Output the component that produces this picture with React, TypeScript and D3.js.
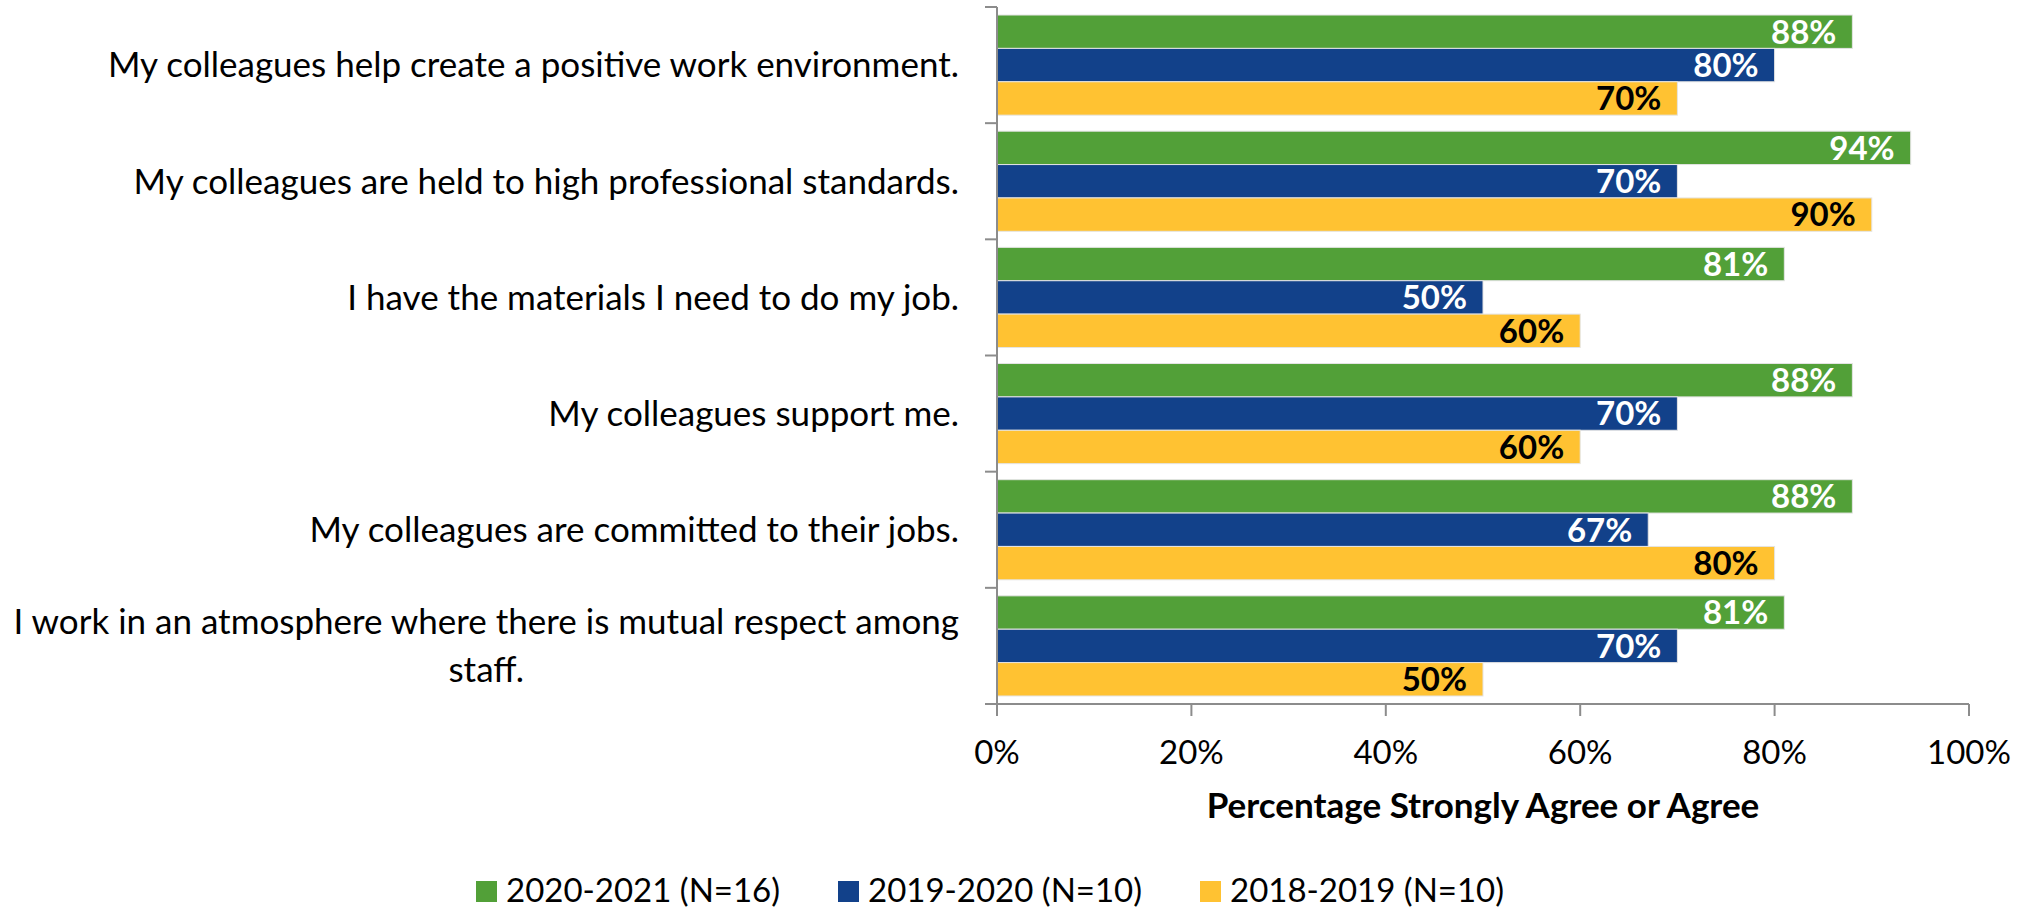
import React, { useEffect, useRef } from 'react';
import * as d3 from 'd3';

const categories = [
  'My colleagues help create a positive work environment.',
  'My colleagues are held to high professional standards.',
  'I have the materials I need to do my job.',
  'My colleagues support me.',
  'My colleagues are committed to their jobs.',
  'I work in an atmosphere where there is mutual respect among staff.',
];

const seriesNames = ['2020-2021 (N=16)', '2019-2020 (N=10)', '2018-2019 (N=10)'];
const values2021 = [88, 94, 81, 88, 88, 81];
const values2020 = [80, 70, 50, 70, 67, 70];
const values2019 = [70, 90, 60, 60, 80, 50];
const xTicks = [0, 20, 40, 60, 80, 100];

const colors = ['#52a038', '#12418a', '#ffc232'];
const labelColors = ['#ffffff', '#ffffff', '#000000'];

const FONT = 'Lato, "Open Sans", sans-serif';

export default function App() {
  const svgRef = useRef<SVGSVGElement>(null);
  const width = 2028;
  const height = 909;

  useEffect(() => {
    document.body.style.margin = '0';
    if (!svgRef.current) return;
    const svg = d3.select(svgRef.current);
    svg.selectAll('*').remove();

    const margin = { top: 7, right: 59, bottom: 205, left: 997 };
    const series = [values2021, values2020, values2019];

    const x = d3.scaleLinear()
      .domain([0, 100])
      .range([margin.left, width - margin.right]);

    const y = d3.scaleBand<number>()
      .domain(d3.range(categories.length))
      .range([margin.top, height - margin.bottom])
      .paddingInner(0.138)
      .paddingOuter(0.069);

    const ySub = d3.scaleBand<number>()
      .domain(d3.range(series.length))
      .range([0, y.bandwidth()]);

    // bars
    const groups = svg.append('g')
      .selectAll('g')
      .data(categories)
      .join('g')
      .attr('transform', (_, i) => `translate(0,${y(i)})`);

    groups.selectAll('rect')
      .data((_, i) => series.map((s, k) => ({ k, v: s[i] })))
      .join('rect')
      .attr('x', x(0))
      .attr('y', d => ySub(d.k)!)
      .attr('width', d => x(d.v) - x(0))
      .attr('height', ySub.bandwidth())
      .attr('fill', d => colors[d.k])
      .attr('stroke', '#e4e4e4')
      .attr('stroke-width', 1);

    groups.selectAll('text')
      .data((_, i) => series.map((s, k) => ({ k, v: s[i] })))
      .join('text')
      .attr('x', d => x(d.v) - 16)
      .attr('y', d => ySub(d.k)! + ySub.bandwidth() / 2)
      .attr('dy', '0.36em')
      .attr('text-anchor', 'end')
      .attr('font-family', FONT)
      .attr('font-weight', 'bold')
      .attr('font-size', 33)
      .attr('fill', d => labelColors[d.k])
      .text(d => `${d.v}%`);

    // y axis with category separators
    const axisColor = '#8c8c8c';
    const yAxis = svg.append('g');
    yAxis.append('line')
      .attr('x1', x(0)).attr('x2', x(0))
      .attr('y1', margin.top).attr('y2', height - margin.bottom)
      .attr('stroke', axisColor).attr('stroke-width', 2);
    const step = y.step();
    yAxis.selectAll('line.tick')
      .data(d3.range(categories.length + 1))
      .join('line')
      .attr('class', 'tick')
      .attr('x1', x(0) - 12).attr('x2', x(0))
      .attr('y1', i => margin.top + i * step)
      .attr('y2', i => margin.top + i * step)
      .attr('stroke', axisColor).attr('stroke-width', 2);

    // category labels
    const maxLabel = 955;
    const labelX = x(0) - 38;
    categories.forEach((c, i) => {
      const cy = y(i)! + y.bandwidth() / 2;
      const t = svg.append('text')
        .attr('font-family', FONT)
        .attr('font-size', 35)
        .attr('fill', '#000');
      const words = c.split(' ');
      const lines: string[] = [];
      let cur: string[] = [];
      const probe = t.append('tspan');
      words.forEach(w => {
        const test = [...cur, w].join(' ');
        probe.text(test);
        if ((probe.node() as SVGTSpanElement).getComputedTextLength() > maxLabel && cur.length) {
          lines.push(cur.join(' '));
          cur = [w];
        } else {
          cur.push(w);
        }
      });
      lines.push(cur.join(' '));
      probe.remove();
      if (lines.length === 1) {
        t.attr('x', labelX).attr('y', cy).attr('dy', '0.35em')
          .attr('text-anchor', 'end').text(lines[0]);
      } else {
        // wrapped labels are centred on their widest line
        const widths = lines.map(l => {
          const s = t.append('tspan').text(l);
          const wv = (s.node() as SVGTSpanElement).getComputedTextLength();
          s.remove();
          return wv;
        });
        const cx = labelX - d3.max(widths)! / 2;
        const lh = 48;
        t.attr('text-anchor', 'middle');
        lines.forEach((l, j) => {
          t.append('tspan')
            .attr('x', cx)
            .attr('y', cy + (j - (lines.length - 1) / 2) * lh)
            .attr('dy', '0.35em')
            .text(l);
        });
      }
    });

    // x axis
    const xAxisY = height - margin.bottom;
    const xAxis = svg.append('g');
    xAxis.append('line')
      .attr('x1', x(0) - 12).attr('x2', x(100))
      .attr('y1', xAxisY).attr('y2', xAxisY)
      .attr('stroke', axisColor).attr('stroke-width', 2);
    xAxis.selectAll('line.tick')
      .data(xTicks)
      .join('line')
      .attr('class', 'tick')
      .attr('x1', d => x(d)).attr('x2', d => x(d))
      .attr('y1', xAxisY).attr('y2', xAxisY + 12)
      .attr('stroke', axisColor).attr('stroke-width', 2);
    xAxis.selectAll('text')
      .data(xTicks)
      .join('text')
      .attr('x', d => x(d))
      .attr('y', xAxisY + 60)
      .attr('text-anchor', 'middle')
      .attr('font-family', FONT)
      .attr('font-size', 33)
      .attr('fill', '#000')
      .text(d => `${d}%`);

    svg.append('text')
      .attr('x', (x(0) + x(100)) / 2)
      .attr('y', xAxisY + 114)
      .attr('text-anchor', 'middle')
      .attr('font-family', FONT)
      .attr('font-weight', 'bold')
      .attr('font-size', 35)
      .attr('fill', '#000')
      .text('Percentage Strongly Agree or Agree');

    // legend
    const legend = svg.append('g')
      .selectAll('g')
      .data(seriesNames)
      .join('g')
      .attr('transform', (_, i) => `translate(${476 + i * 362},881)`);
    legend.append('rect')
      .attr('width', 21).attr('height', 21)
      .attr('fill', (_, i) => colors[i]);
    legend.append('text')
      .attr('x', 30)
      .attr('y', 21)
      .attr('font-family', FONT)
      .attr('font-size', 33)
      .attr('fill', '#000')
      .text(d => d);
  }, []);

  return (
    <svg
      ref={svgRef}
      width={width}
      height={height}
      style={{ display: 'block', background: '#fff' }}
    />
  );
}
